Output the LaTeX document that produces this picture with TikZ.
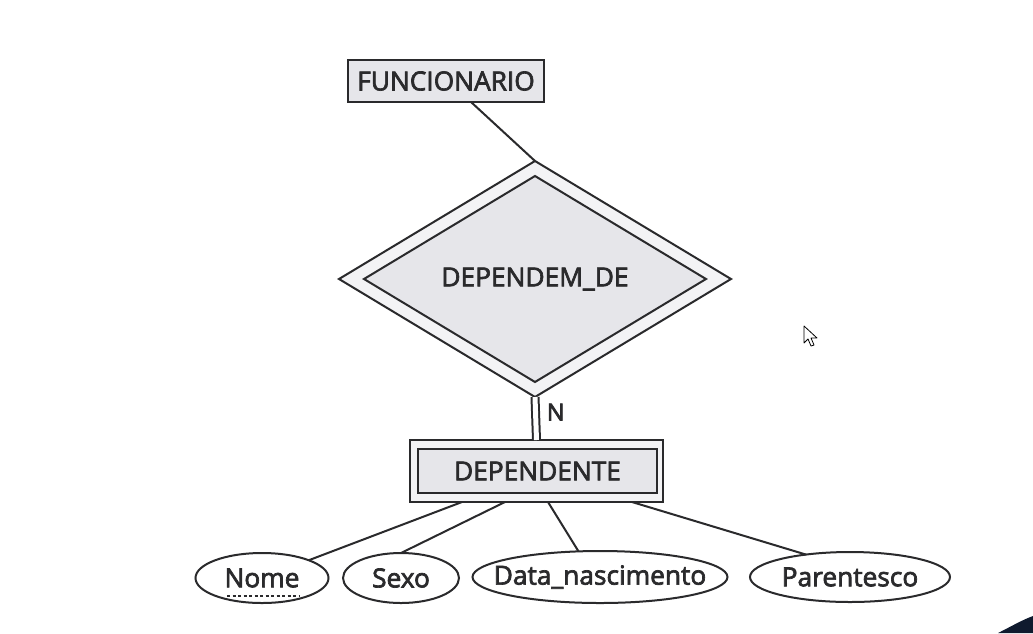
\documentclass[tikz,border=0pt]{standalone}
\usepackage{fontspec}
\setmainfont{Open Sans}
\newfontfamily\labelfont{Open Sans}[FakeBold=2.6]
\newfontfamily\cardfont{Open Sans}[FakeBold=3.4]
\usetikzlibrary{shapes.geometric,calc}
\definecolor{ink}{HTML}{2A2A2C}
\definecolor{boxfill}{HTML}{E6E6EA}
\definecolor{ringfill}{HTML}{F3F3F5}
\definecolor{navy}{HTML}{0F1A2E}
\newcommand{\zw}[1]{\makebox[0pt]{#1}}
\tikzset{
  every node/.style={font=\labelfont\fontsize{26.3}{30}\selectfont, text=ink},
  line/.style={draw=ink, line width=2},
  entity/.style={line, rectangle, fill=boxfill, inner sep=0, outer sep=0},
  relbox/.style={line, diamond, aspect=1.66, inner sep=0, outer sep=0},
  attr/.style={line, ellipse, fill=white, inner sep=0, outer sep=0, minimum height=50},
}
\begin{document}
\begin{tikzpicture}[x=1pt,y=-1pt]
\useasboundingbox (0,0) rectangle (1033,633);
% entities
\node[entity, minimum width=196, minimum height=42] (func) at (446,81) {\zw{FUNCIONARIO}};
\node[relbox, fill=ringfill, minimum width=392, minimum height=236] (rel) at (535,279) {};
\node[relbox, fill=boxfill, minimum width=342, minimum height=206] (relin) at (535,279) {DEPENDEM\_DE};
\node[entity, fill=ringfill, minimum width=253, minimum height=62] (depo) at (536.5,471) {};
\node[entity, minimum width=239, minimum height=44] (dep) at (537.5,471) {\zw{DEPENDENTE}};
% attributes
\node[attr, minimum width=133] (nome) at (262,578) {\zw{Nome}};
\node[attr, minimum width=116] (sexo) at (401,578) {\zw{Sexo}};
\node[attr, minimum width=255, minimum height=52] (data) at (600,577) {\zw{Data\_nascimento}};
\node[attr, minimum width=200] (par) at (850,577) {\zw{Parentesco}};
\draw[ink, line width=1.5, dash pattern=on 3 off 2.5] ($(nome.center)+(-35,18)$) -- ($(nome.center)+(38,18)$);
% connectors
\coordinate (f1) at ($(func.south)+(25,0)$);
\draw[line] (f1) -- (rel.north);
\draw[line, double=white, double distance=5] (rel.south) -- (depo.north) node[pos=0.35, right=7, font=\cardfont\fontsize{23.5}{27}\selectfont] (n) {N};
\coordinate (d1) at (462,502);
\coordinate (d2) at (505,502);
\coordinate (d3) at (548,502);
\coordinate (d4) at (632,502);
\draw[line] (nome) -- (d1);
\draw[line] (sexo.north) -- (d2);
\draw[line] (data.130) -- (d3);
\draw[line] (par.153) -- (d4);
% screen artefacts
\fill[navy] (998,633) .. controls (1012,626) and (1022,620) .. (1033,616) -- (1033,633) -- cycle;
\draw[black, fill=white, line width=0.8, line join=round] (804,326) -- (804,343) -- (808,339) -- (811,346) -- (814,345) -- (811,338) -- (817,338) -- cycle;
\end{tikzpicture}
\end{document}
